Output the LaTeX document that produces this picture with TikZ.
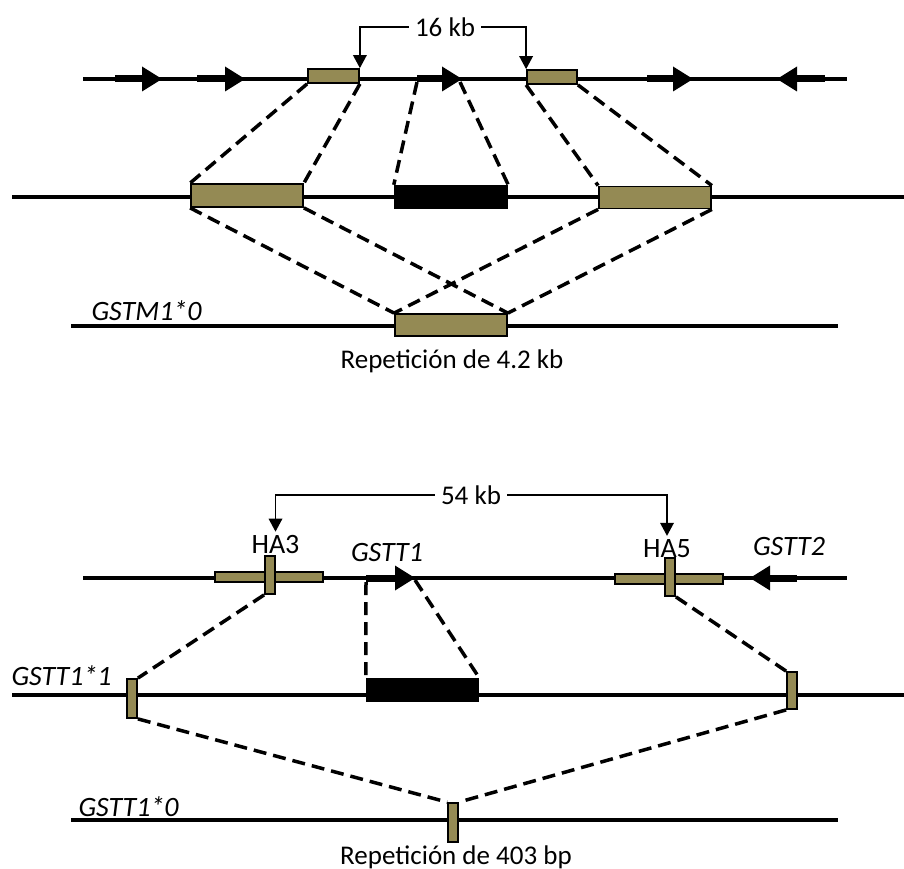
\documentclass[tikz,border=0pt]{standalone}
\usepackage{fontspec}
\setmainfont{Carlito}
\usetikzlibrary{arrows.meta}

\definecolor{repolive}{RGB}{148,138,84}

\tikzset{
  chrom/.style={line width=3.2pt},
  gene/.style={line width=7pt, -{Triangle[length=20pt,width=25pt,line width=0pt]}},
  repbox/.style={draw, line width=1.8pt, fill=repolive, inner sep=0pt},
  blackbox/.style={fill=black, inner sep=0pt},
  link/.style={line width=3.5pt, dash pattern=on 13pt off 7pt},
  pointer/.style={line width=1.5pt, -{Triangle[length=13pt,width=14pt,line width=0pt]}},
  kbtext/.style={font=\fontsize{27}{30}\selectfont, inner sep=6pt},
  reptext/.style={font=\fontsize{27}{30}\selectfont, anchor=base},
  halabel/.style={font=\fontsize{28}{30}\selectfont, anchor=base, inner sep=3pt},
  genename/.style={font=\fontsize{28}{30}\selectfont\itshape, anchor=base},
}

\begin{document}
\begin{tikzpicture}[x=1pt,y=-1pt]
         \useasboundingbox (0,0) rectangle (904,869);

         \draw[chrom] (83,79) -- (847,79);
         \draw[chrom] (12,197) -- (904,197);
         \draw[chrom] (71,326) -- (838,326);
         \draw[chrom] (83,578) -- (847,578);
         \draw[chrom] (12,695) -- (904,695);
         \draw[chrom] (71,820) -- (838,820);

         \draw[gene] (115,79) -- (162,79);
         \draw[gene] (197,79) -- (245,79);
         \draw[gene] (417,79) -- (462,79);
         \draw[gene] (647,79) -- (693,79);
         \draw[gene] (825,79) -- (777,79);
         \draw[gene] (366,578) -- (415,578);
         \draw[gene] (797,578) -- (750,578);

         \coordinate (g3s) at (417,82);
         \coordinate (g3t) at (460,82);
         \coordinate (g1s) at (366,582);
         \coordinate (g1t) at (415,580);

         \node[repbox, minimum width=51pt, minimum height=14pt] at (333.5,76) (r1) {};
         \node[repbox, minimum width=50pt, minimum height=14pt] at (552,77) (r2) {};
         \node[repbox, minimum width=112pt, minimum height=23pt] at (247,195.5) (ra) {};
         \node[blackbox, minimum width=114pt, minimum height=24pt] at (451,197) (bk1) {};
         \node[repbox, minimum width=112pt, minimum height=22pt] at (655,197.5) (rb) {};
         \node[repbox, minimum width=112pt, minimum height=22pt] at (451,325) (rc) {};

         \node[repbox, minimum width=108pt, minimum height=10pt] at (269,577) (ha3h) {};
         \node[repbox, minimum width=10pt, minimum height=38pt] at (270,575) (ha3v) {};
         \node[repbox, minimum width=108pt, minimum height=10pt] at (669,579) (ha5h) {};
         \node[repbox, minimum width=10pt, minimum height=38pt] at (670,577) (ha5v) {};
         \node[repbox, minimum width=10pt, minimum height=39pt] at (132,698.5) (s1) {};
         \node[blackbox, minimum width=113pt, minimum height=24pt] at (422.5,690) (bk2) {};
         \node[repbox, minimum width=10pt, minimum height=37pt] at (792,690.5) (s2) {};
         \node[repbox, minimum width=10pt, minimum height=39pt] at (453,822.5) (s3) {};

         \draw[link] (r1.south west) -- (ra.north west);
         \draw[link] (r1.south east) -- (ra.north east);
         \draw[link] (g3s) -- (bk1.north west);
         \draw[link] (g3t) -- (bk1.north east);
         \draw[link] (r2.south west) -- (rb.north west);
         \draw[link] (r2.south east) -- (rb.north east);
         \draw[link] (ra.south west) -- (rc.north west);
         \draw[link] (ra.south east) -- (rc.north east);
         \draw[link] (rb.south west) -- (rc.north west);
         \draw[link] (rb.south east) -- (rc.north east);

         \draw[link] (ha3v.south west) -- (s1.north east);
         \draw[link] (g1s) -- (bk2.north west);
         \draw[link] (g1t) -- (bk2.north east);
         \draw[link] (ha5v.south east) -- (s2.north west);
         \draw[link] (s1.south east) -- (s3.north west);
         \draw[link] (s2.south west) -- (s3.north east);

         \node[kbtext] at (445,27) (kb16) {16 kb};
         \node[kbtext] at (471,495) (kb54) {54 kb};
         \node[halabel] at (275.5,553) (ha3) {HA3};
         \node[halabel] at (667,557) (ha5) {HA5};

         \draw[pointer] (kb16.west) -| (r1.north east);
         \draw[pointer] (kb16.east) -| (r2.north west);
         \draw[pointer] (kb54.west) -| (ha3.north);
         \draw[pointer] (kb54.east) -| (ha5.north);

         \node[genename] at (387,561) (gstt1) {GSTT1};
         \node[genename] at (789,555) (gstt2) {GSTT2};
         \node[genename, anchor=base west] at (88,320) (gstm0) {GSTM1*0};
         \node[genename, anchor=base west] at (8,685) (gstt11) {GSTT1*1};
         \node[genename, anchor=base west] at (75,816) (gstt10) {GSTT1*0};

         \node[reptext] at (452,368) (rep42) {Repetición de 4.2 kb};
         \node[reptext] at (456,864) (rep403) {Repetición de 403 bp};
      \end{tikzpicture}
\end{document}
